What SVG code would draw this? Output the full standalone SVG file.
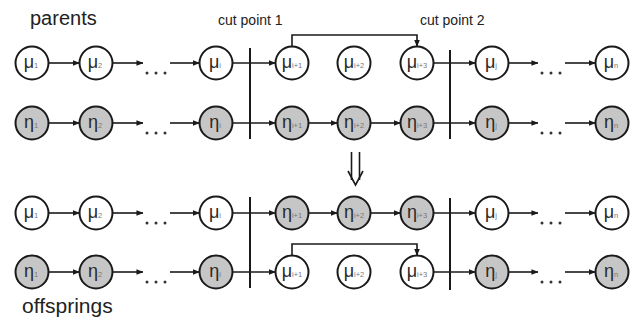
<svg xmlns="http://www.w3.org/2000/svg" width="637" height="323" viewBox="0 0 637 323">
<style>
.n{stroke:#1a1a1a;stroke-width:2;fill:#fff}
.g{fill:#c6c6c6}
.t{font-family:"Liberation Sans",Arial,sans-serif;font-size:18px;fill:#2a2a2a;text-anchor:middle}
.s{font-size:7.5px;fill:#777}
.c{stroke:#1a1a1a;stroke-width:1.6;fill:none}
.a{marker-end:url(#ah)}
.cut{stroke:#1a1a1a;stroke-width:2}
.lbl{font-family:"Liberation Sans",Arial,sans-serif;fill:#222}
.d{fill:#333}
</style>
<defs>
<marker id="ah" viewBox="0 0 8 8" refX="7.5" refY="4" markerWidth="7" markerHeight="7" markerUnits="userSpaceOnUse" orient="auto">
<path d="M0,0.8 L8,4 L0,7.2 z" fill="#1a1a1a"/>
</marker>
</defs>
<rect width="637" height="323" fill="#fff"/>
<text class="lbl" x="30" y="25" font-size="20">parents</text>
<text class="lbl" x="22" y="313" font-size="21">offsprings</text>
<text class="lbl" x="218" y="25" font-size="14">cut point 1</text>
<text class="lbl" x="420" y="25" font-size="14">cut point 2</text>
<g id="connectors">
<!-- row 1 -->
<line class="c a" x1="48.5" y1="63" x2="79.5" y2="63"/>
<line class="c a" x1="112.5" y1="63" x2="143" y2="63"/>
<line class="c a" x1="170" y1="63" x2="199.5" y2="63"/>
<line class="c a" x1="232.5" y1="63" x2="275.5" y2="63"/>
<polyline class="c a" points="292,46.5 292,35 417,35 417,46.5"/>
<line class="c a" x1="433.5" y1="63" x2="475.5" y2="63"/>
<line class="c a" x1="508.5" y1="63" x2="538" y2="63"/>
<line class="c a" x1="565" y1="63" x2="595.5" y2="63"/>
<!-- row 2 -->
<line class="c a" x1="48.5" y1="123" x2="79.5" y2="123"/>
<line class="c a" x1="112.5" y1="123" x2="143" y2="123"/>
<line class="c a" x1="170" y1="123" x2="199.5" y2="123"/>
<line class="c a" x1="232.5" y1="123" x2="275.5" y2="123"/>
<line class="c a" x1="308.5" y1="123" x2="337.5" y2="123"/>
<line class="c a" x1="370.5" y1="123" x2="400.5" y2="123"/>
<line class="c a" x1="433.5" y1="123" x2="475.5" y2="123"/>
<line class="c a" x1="508.5" y1="123" x2="538" y2="123"/>
<line class="c a" x1="565" y1="123" x2="595.5" y2="123"/>
<!-- row 3 -->
<line class="c a" x1="48.5" y1="213" x2="79.5" y2="213"/>
<line class="c a" x1="112.5" y1="213" x2="143" y2="213"/>
<line class="c a" x1="170" y1="213" x2="199.5" y2="213"/>
<line class="c a" x1="232.5" y1="213" x2="275.5" y2="213"/>
<line class="c a" x1="308.5" y1="213" x2="337.5" y2="213"/>
<line class="c a" x1="370.5" y1="213" x2="400.5" y2="213"/>
<line class="c a" x1="433.5" y1="213" x2="475.5" y2="213"/>
<line class="c a" x1="508.5" y1="213" x2="538" y2="213"/>
<line class="c a" x1="565" y1="213" x2="595.5" y2="213"/>
<!-- row 4 -->
<line class="c a" x1="48.5" y1="272" x2="79.5" y2="272"/>
<line class="c a" x1="112.5" y1="272" x2="143" y2="272"/>
<line class="c a" x1="170" y1="272" x2="199.5" y2="272"/>
<line class="c a" x1="232.5" y1="272" x2="275.5" y2="272"/>
<polyline class="c a" points="292,255.5 292,244 417,244 417,255.5"/>
<line class="c a" x1="433.5" y1="272" x2="475.5" y2="272"/>
<line class="c a" x1="508.5" y1="272" x2="538" y2="272"/>
<line class="c a" x1="565" y1="272" x2="595.5" y2="272"/>
</g>
<g id="cuts">
<line class="cut" x1="250" y1="48" x2="250" y2="139"/>
<line class="cut" x1="450" y1="50" x2="450" y2="139"/>
<line class="cut" x1="250" y1="197" x2="250" y2="288"/>
<line class="cut" x1="450" y1="198" x2="450" y2="290"/>
</g>
<g id="dots">
<circle class="d" cx="147" cy="73" r="1.5"/><circle class="d" cx="156" cy="73" r="1.5"/><circle class="d" cx="165" cy="73" r="1.5"/>
<circle class="d" cx="542" cy="73" r="1.5"/><circle class="d" cx="551" cy="73" r="1.5"/><circle class="d" cx="560" cy="73" r="1.5"/>
<circle class="d" cx="147" cy="133" r="1.5"/><circle class="d" cx="156" cy="133" r="1.5"/><circle class="d" cx="165" cy="133" r="1.5"/>
<circle class="d" cx="542" cy="133" r="1.5"/><circle class="d" cx="551" cy="133" r="1.5"/><circle class="d" cx="560" cy="133" r="1.5"/>
<circle class="d" cx="147" cy="223" r="1.5"/><circle class="d" cx="156" cy="223" r="1.5"/><circle class="d" cx="165" cy="223" r="1.5"/>
<circle class="d" cx="542" cy="223" r="1.5"/><circle class="d" cx="551" cy="223" r="1.5"/><circle class="d" cx="560" cy="223" r="1.5"/>
<circle class="d" cx="147" cy="282" r="1.5"/><circle class="d" cx="156" cy="282" r="1.5"/><circle class="d" cx="165" cy="282" r="1.5"/>
<circle class="d" cx="542" cy="282" r="1.5"/><circle class="d" cx="551" cy="282" r="1.5"/><circle class="d" cx="560" cy="282" r="1.5"/>
</g>
<g id="down-arrow" fill="none" stroke="#1a1a1a" stroke-width="1.6">
<line x1="351.5" y1="152" x2="351.5" y2="180"/>
<line x1="359.5" y1="152" x2="359.5" y2="180"/>
<polyline points="348,171 355.5,185 363,171"/>
</g>
<!-- row 1: parents mu -->
<g id="p-mu1"><circle class="n" cx="32" cy="63" r="16.5"/><text class="t" x="31" y="68">μ<tspan class="s">1</tspan></text></g>
<g id="p-mu2"><circle class="n" cx="96" cy="63" r="16.5"/><text class="t" x="95" y="68">μ<tspan class="s">2</tspan></text></g>
<g id="p-mui"><circle class="n" cx="216" cy="63" r="16.5"/><text class="t" x="215" y="68">μ<tspan class="s">i</tspan></text></g>
<g id="p-mui1"><circle class="n" cx="292" cy="63" r="16.5"/><text class="t" x="292" y="68">μ<tspan class="s">i+1</tspan></text></g>
<g id="p-mui2"><circle class="n" cx="354" cy="63" r="16.5"/><text class="t" x="354" y="68">μ<tspan class="s">i+2</tspan></text></g>
<g id="p-mui3"><circle class="n" cx="417" cy="63" r="16.5"/><text class="t" x="417" y="68">μ<tspan class="s">i+3</tspan></text></g>
<g id="p-muj"><circle class="n" cx="492" cy="63" r="16.5"/><text class="t" x="491" y="68">μ<tspan class="s">j</tspan></text></g>
<g id="p-mun"><circle class="n" cx="612" cy="63" r="16.5"/><text class="t" x="611" y="68">μ<tspan class="s">n</tspan></text></g>
<!-- row 2: parents eta -->
<g id="p-eta1"><circle class="n g" cx="32" cy="123" r="16.5"/><text class="t" x="31" y="128">η<tspan class="s">1</tspan></text></g>
<g id="p-eta2"><circle class="n g" cx="96" cy="123" r="16.5"/><text class="t" x="95" y="128">η<tspan class="s">2</tspan></text></g>
<g id="p-etai"><circle class="n g" cx="216" cy="123" r="16.5"/><text class="t" x="215" y="128">η<tspan class="s">i</tspan></text></g>
<g id="p-etai1"><circle class="n g" cx="292" cy="123" r="16.5"/><text class="t" x="292" y="128">η<tspan class="s">i+1</tspan></text></g>
<g id="p-etai2"><circle class="n g" cx="354" cy="123" r="16.5"/><text class="t" x="354" y="128">η<tspan class="s">i+2</tspan></text></g>
<g id="p-etai3"><circle class="n g" cx="417" cy="123" r="16.5"/><text class="t" x="417" y="128">η<tspan class="s">i+3</tspan></text></g>
<g id="p-etaj"><circle class="n g" cx="492" cy="123" r="16.5"/><text class="t" x="491" y="128">η<tspan class="s">j</tspan></text></g>
<g id="p-etan"><circle class="n g" cx="612" cy="123" r="16.5"/><text class="t" x="611" y="128">η<tspan class="s">n</tspan></text></g>
<!-- row 3: offspring 1 -->
<g id="o-mu1"><circle class="n" cx="32" cy="213" r="16.5"/><text class="t" x="31" y="218">μ<tspan class="s">1</tspan></text></g>
<g id="o-mu2"><circle class="n" cx="96" cy="213" r="16.5"/><text class="t" x="95" y="218">μ<tspan class="s">2</tspan></text></g>
<g id="o-mui"><circle class="n" cx="216" cy="213" r="16.5"/><text class="t" x="215" y="218">μ<tspan class="s">i</tspan></text></g>
<g id="o-etai1"><circle class="n g" cx="292" cy="213" r="16.5"/><text class="t" x="292" y="218">η<tspan class="s">i+1</tspan></text></g>
<g id="o-etai2"><circle class="n g" cx="354" cy="213" r="16.5"/><text class="t" x="354" y="218">η<tspan class="s">i+2</tspan></text></g>
<g id="o-etai3"><circle class="n g" cx="417" cy="213" r="16.5"/><text class="t" x="417" y="218">η<tspan class="s">i+3</tspan></text></g>
<g id="o-muj"><circle class="n" cx="492" cy="213" r="16.5"/><text class="t" x="491" y="218">μ<tspan class="s">j</tspan></text></g>
<g id="o-mun"><circle class="n" cx="612" cy="213" r="16.5"/><text class="t" x="611" y="218">μ<tspan class="s">n</tspan></text></g>
<!-- row 4: offspring 2 -->
<g id="o-eta1"><circle class="n g" cx="32" cy="272" r="16.5"/><text class="t" x="31" y="277">η<tspan class="s">1</tspan></text></g>
<g id="o-eta2"><circle class="n g" cx="96" cy="272" r="16.5"/><text class="t" x="95" y="277">η<tspan class="s">2</tspan></text></g>
<g id="o-etai"><circle class="n g" cx="216" cy="272" r="16.5"/><text class="t" x="215" y="277">η<tspan class="s">i</tspan></text></g>
<g id="o-mui1"><circle class="n" cx="292" cy="272" r="16.5"/><text class="t" x="292" y="277">μ<tspan class="s">i+1</tspan></text></g>
<g id="o-mui2"><circle class="n" cx="354" cy="272" r="16.5"/><text class="t" x="354" y="277">μ<tspan class="s">i+2</tspan></text></g>
<g id="o-mui3"><circle class="n" cx="417" cy="272" r="16.5"/><text class="t" x="417" y="277">μ<tspan class="s">i+3</tspan></text></g>
<g id="o-etaj"><circle class="n g" cx="492" cy="272" r="16.5"/><text class="t" x="491" y="277">η<tspan class="s">j</tspan></text></g>
<g id="o-etan"><circle class="n g" cx="612" cy="272" r="16.5"/><text class="t" x="611" y="277">η<tspan class="s">n</tspan></text></g>
</svg>
